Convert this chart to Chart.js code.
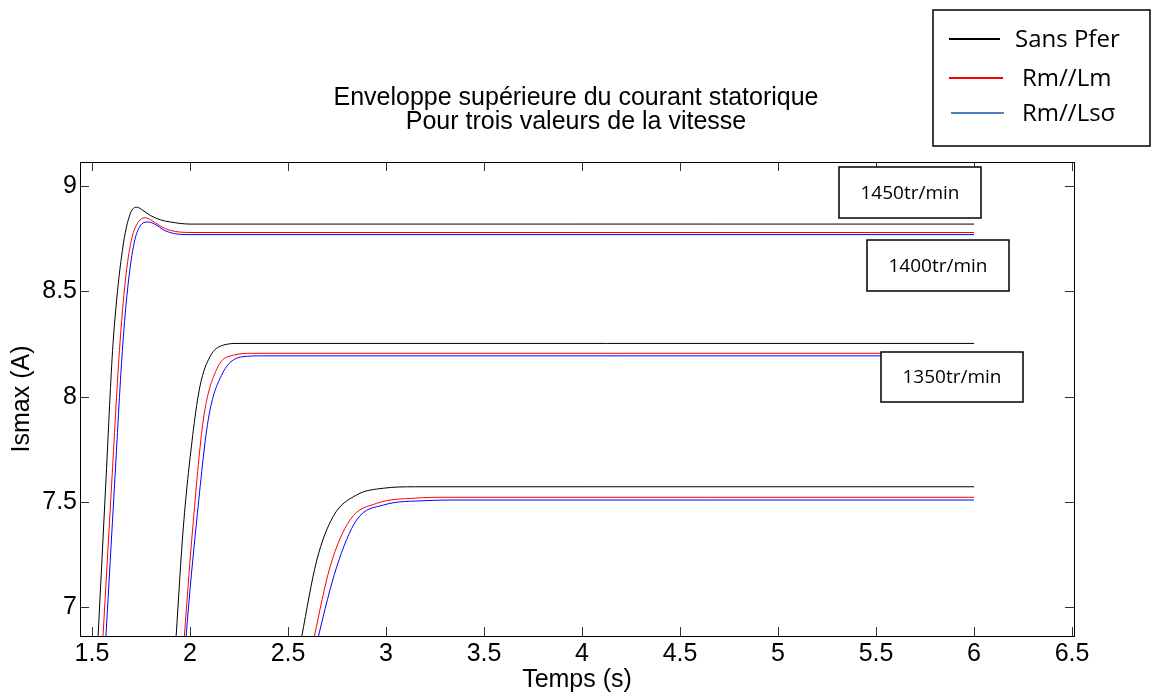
<!DOCTYPE html>
<html>
<head>
<meta charset="utf-8">
<script src="https://cdn.jsdelivr.net/npm/chart.js@4.4.0/dist/chart.umd.min.js"></script>
<style>
html, body { margin: 0; padding: 0; background: #fff; }
#wrap { width: 1152px; height: 697px; }
</style>
</head>
<body>
<div id="wrap"><canvas id="chartCourant" width="1152" height="697"></canvas></div>
<script>
window.color = {
    black: 'rgb(0, 0, 0)',
    red: 'rgb(255, 0, 0)',
    blue: 'rgb(0, 0, 255)',
    legendBlue: 'rgb(79, 129, 189)'
};

var seriesNames = ['Sans Pfer', 'Rm//Lm', 'Rm//Ls\u03c3'];
var speedLabels = ['1450tr/min', '1400tr/min', '1350tr/min'];
var xTicks = [1.5, 2, 2.5, 3, 3.5, 4, 4.5, 5, 5.5, 6, 6.5];
var yTicks = [7, 7.5, 8, 8.5, 9];

// 1450 tr/min
var t1450Sans = [1.50, 1.531, 1.57, 1.605, 1.63, 1.65, 1.67, 1.70, 1.73, 1.76, 1.80, 1.85, 1.90, 2.0, 6.0];
var i1450Sans = [6.30, 6.86, 7.58, 8.22, 8.50, 8.66, 8.78, 8.88, 8.90, 8.885, 8.86, 8.84, 8.83, 8.82, 8.82];
var t1450Lm = [1.52, 1.556, 1.60, 1.64, 1.67, 1.70, 1.73, 1.77, 1.80, 1.85, 1.90, 2.0, 6.0];
var i1450Lm = [6.28, 6.86, 7.58, 8.22, 8.55, 8.74, 8.82, 8.85, 8.84, 8.81, 8.79, 8.78, 8.78];
var t1450Ls = [1.535, 1.571, 1.615, 1.655, 1.685, 1.715, 1.745, 1.786, 1.82, 1.87, 1.92, 2.0, 6.0];
var i1450Ls = [6.28, 6.86, 7.58, 8.22, 8.54, 8.73, 8.81, 8.83, 8.82, 8.79, 8.775, 8.77, 8.77];

// 1400 tr/min
var t1400Sans = [1.90, 1.929, 1.966, 2.017, 2.051, 2.102, 2.17, 2.25, 6.0];
var i1400Sans = [6.45, 6.86, 7.38, 7.84, 8.05, 8.19, 8.245, 8.253, 8.253];
var t1400Lm = [1.94, 1.971, 2.017, 2.068, 2.136, 2.22, 2.32, 6.0];
var i1400Lm = [6.45, 6.86, 7.41, 7.89, 8.13, 8.197, 8.206, 8.206];
var t1400Ls = [1.95, 1.98, 2.034, 2.093, 2.16, 2.27, 2.37, 6.0];
var i1400Ls = [6.45, 6.86, 7.41, 7.89, 8.10, 8.19, 8.194, 8.194];

// 1350 tr/min
var t1350Sans = [2.50, 2.57, 2.646, 2.73, 2.85, 2.986, 3.15, 6.0];
var i1350Sans = [6.50, 6.86, 7.22, 7.43, 7.533, 7.565, 7.572, 7.572];
var t1350Lm = [2.57, 2.634, 2.714, 2.816, 2.952, 3.15, 3.3, 6.0];
var i1350Lm = [6.58, 6.86, 7.19, 7.414, 7.493, 7.518, 7.522, 7.522];
var t1350Ls = [2.59, 2.655, 2.748, 2.85, 2.986, 3.2, 3.35, 6.0];
var i1350Ls = [6.58, 6.86, 7.19, 7.414, 7.485, 7.506, 7.509, 7.509];

function serie(t, i, col) {
    return {
        data: t.map(function (v, k) { return {x: v, y: i[k]}; }),
        borderColor: col,
        borderWidth: 1,
        pointRadius: 0,
        fill: false,
        cubicInterpolationMode: 'monotone'
    };
}

var fontAxe = {family: 'Liberation Sans', size: 25};

var cadrePlugin = {
    id: 'cadre',
    afterDraw: function (chart) {
        var ctx = chart.ctx;
        var a = chart.chartArea;
        var sx = chart.scales.x, sy = chart.scales.y;
        ctx.save();
        // inward ticks on all four sides
        ctx.strokeStyle = '#333';
        ctx.lineWidth = 1;
        ctx.beginPath();
        xTicks.forEach(function (v) {
            var px = Math.round(sx.getPixelForValue(v)) + 0.5;
            ctx.moveTo(px, a.bottom); ctx.lineTo(px, a.bottom - 9);
            ctx.moveTo(px, a.top); ctx.lineTo(px, a.top + 9);
        });
        yTicks.forEach(function (v) {
            var py = Math.round(sy.getPixelForValue(v)) + 0.5;
            ctx.moveTo(a.left, py); ctx.lineTo(a.left + 9, py);
            ctx.moveTo(a.right, py); ctx.lineTo(a.right - 9, py);
        });
        ctx.stroke();
        // frame
        ctx.strokeStyle = '#000';
        ctx.strokeRect(Math.round(a.left) + 0.5, Math.round(a.top) + 0.5,
            Math.round(a.right - a.left), Math.round(a.bottom - a.top));

        // speed labels
        var boites = [[839, 167, 142, 51], [867, 240, 142, 51], [881, 352, 142, 50]];
        ctx.font = '19px "Open Sans"';
        ctx.textAlign = 'center';
        ctx.textBaseline = 'middle';
        ctx.lineWidth = 1.5;
        boites.forEach(function (b, k) {
            ctx.fillStyle = '#fff';
            ctx.fillRect(b[0], b[1], b[2], b[3]);
            ctx.strokeRect(b[0], b[1], b[2], b[3]);
            ctx.fillStyle = '#000';
            ctx.fillText(speedLabels[k], b[0] + b[2] / 2, b[1] + b[3] / 2 + 1);
        });

        // legend
        ctx.fillStyle = '#fff';
        ctx.fillRect(933, 10, 217, 136);
        ctx.strokeRect(933, 10, 217, 136);
        var lignes = [[949, 1000, 39, window.color.black, 1015],
                      [949, 1003, 78, window.color.red, 1022],
                      [951, 1004, 113, window.color.legendBlue, 1022]];
        ctx.font = '24px "Open Sans"';
        ctx.textAlign = 'left';
        lignes.forEach(function (l, k) {
            ctx.strokeStyle = l[3];
            ctx.lineWidth = 2;
            ctx.beginPath();
            ctx.moveTo(l[0], l[2]); ctx.lineTo(l[1], l[2]);
            ctx.stroke();
            ctx.fillStyle = '#000';
            ctx.fillText(seriesNames[k], l[4], l[2] + 1);
        });
        ctx.restore();
    }
};

function graficoCourant() {
    var ctx = document.getElementById('chartCourant').getContext('2d');

    var data = {
        datasets: [
            serie(t1450Sans, i1450Sans, window.color.black),
            serie(t1450Lm, i1450Lm, window.color.red),
            serie(t1450Ls, i1450Ls, window.color.blue),
            serie(t1400Sans, i1400Sans, window.color.black),
            serie(t1400Lm, i1400Lm, window.color.red),
            serie(t1400Ls, i1400Ls, window.color.blue),
            serie(t1350Sans, i1350Sans, window.color.black),
            serie(t1350Lm, i1350Lm, window.color.red),
            serie(t1350Ls, i1350Ls, window.color.blue)
        ]
    };

    new Chart(ctx, {
        type: 'line',
        data: data,
        options: {
            responsive: false,
            animation: false,
            layout: {padding: 0},
            plugins: {
                legend: {display: false},
                tooltip: {enabled: false},
                title: {
                    display: true,
                    text: ['Enveloppe sup\u00e9rieure du courant statorique', 'Pour trois valeurs de la vitesse'],
                    color: '#000',
                    font: {family: 'Liberation Sans', size: 25, weight: 'normal', lineHeight: 0.96},
                    padding: {top: 86, bottom: 28}
                }
            },
            scales: {
                x: {
                    type: 'linear',
                    min: 1.4388,
                    max: 6.51,
                    afterBuildTicks: function (s) { s.ticks = xTicks.map(function (v) { return {value: v}; }); },
                    afterFit: function (s) { s.height = 61; },
                    grid: {display: false, drawTicks: false},
                    border: {display: false},
                    ticks: {color: '#000', font: fontAxe, padding: 3, maxRotation: 0, autoSkip: false,
                        callback: function (v) { return String(v); }},
                    title: {display: true, text: 'Temps (s)', color: '#000', font: fontAxe, padding: {top: 0, bottom: 2}}
                },
                y: {
                    type: 'linear',
                    min: 6.863,
                    max: 9.115,
                    afterBuildTicks: function (s) { s.ticks = yTicks.map(function (v) { return {value: v}; }); },
                    afterFit: function (s) { s.width = 80; },
                    grid: {display: false, drawTicks: false},
                    border: {display: false},
                    ticks: {color: '#000', font: fontAxe, padding: 3,
                        callback: function (v) { return String(v); }},
                    title: {display: true, text: 'Ismax (A)', color: '#000', font: fontAxe, padding: {top: 7, bottom: 0}}
                },
                y2: {
                    type: 'linear',
                    position: 'right',
                    min: 6.863,
                    max: 9.115,
                    afterFit: function (s) { s.width = 78; },
                    grid: {display: false, drawTicks: false},
                    border: {display: false},
                    ticks: {display: false}
                }
            }
        },
        plugins: [cadrePlugin]
    });
}

graficoCourant();
</script>
</body>
</html>
